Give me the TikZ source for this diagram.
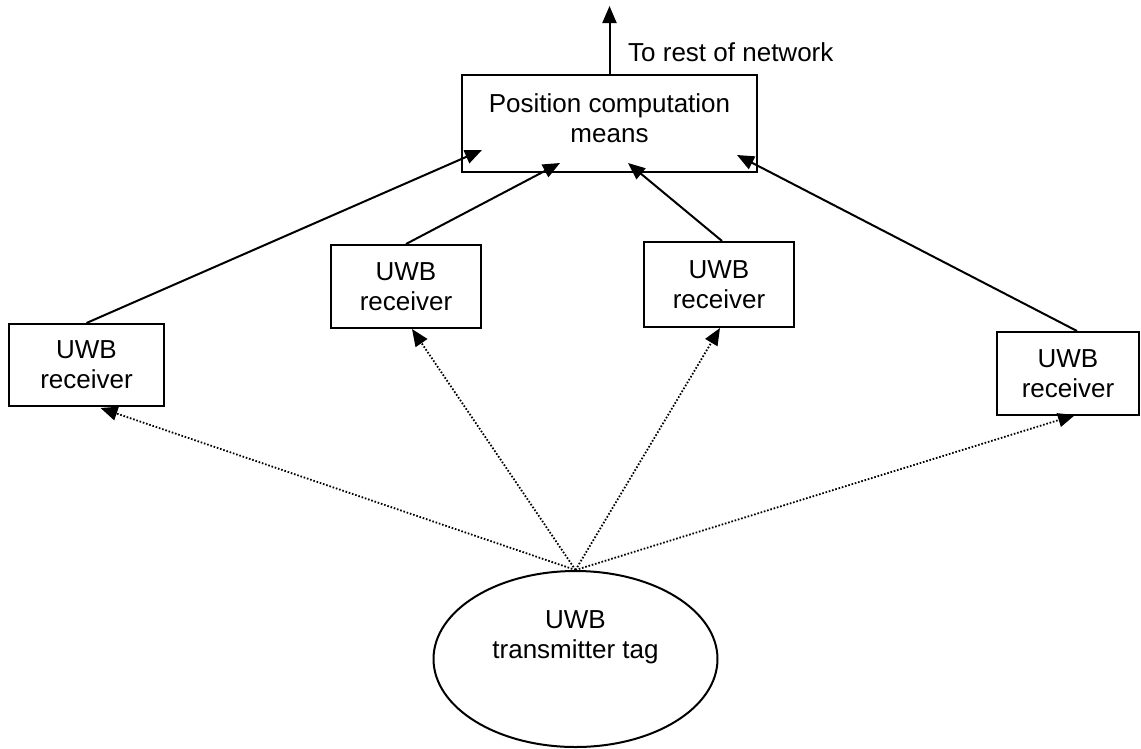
\documentclass[tikz,border=0pt]{standalone}
\usepackage{fontspec}
\setmainfont{Liberation Sans}
\usetikzlibrary{arrows.meta,shapes.geometric,calc}
\begin{document}
\begin{tikzpicture}[x=1pt,y=-1pt,
  txt/.style={font=\fontsize{26}{30}\selectfont, align=center, inner sep=0pt},
  rbox/.style={draw, line width=2pt, rectangle, inner sep=0pt, txt},
  tagshape/.style={draw, line width=2pt, ellipse, inner sep=0pt, minimum width=284pt, minimum height=176pt},
  link/.style={line width=2pt, -{Triangle[length=17pt,width=14pt]}},
  radio/.style={line width=1.8pt, dash pattern=on 1.6pt off 1.8pt, -{Triangle[length=17pt,width=14pt]}}]
\useasboundingbox (0,0) rectangle (1141,748);
% central box
\node[rbox, minimum width=295pt, minimum height=97pt] (pcm) at (609.5,123.5) {};
\node[txt] (pcmtext) at (609.5,118) {Position computation\\means};
\coordinate (up) at (609.5,6);
\draw[link] (pcm.north) -- (up);
\node[txt, anchor=west] (net) at (628,52) {To rest of network};
% receivers
\node[rbox, minimum width=155pt, minimum height=82pt] (r1) at (86.5,365) {UWB\\receiver};
\node[rbox, minimum width=150pt, minimum height=83pt] (r2) at (406,286.5) {UWB\\receiver};
\node[rbox, minimum width=150pt, minimum height=85pt] (r3) at (719,284.5) {UWB\\receiver};
\node[rbox, minimum width=142pt, minimum height=83pt] (r4) at (1068,373.5) {UWB\\receiver};
% tag
\node[tagshape] (tag) at (575.5,659) {};
\node[txt] (tagtext) at (575.5,637) {UWB\\transmitter tag};
% arrow tips inside central box
\coordinate (t1) at (482,150);
\coordinate (t2) at (560,163);
\coordinate (t3) at (628,163);
\coordinate (t4) at (737,155);
\draw[link] (r1.north) -- (t1);
\draw[link] (r2.north) -- (t2);
\draw[link] ($(r3.north)+(3,0)$) -- (t3);
\draw[link] ($(r4.north)+(9,0)$) -- (t4);
% radio links
\draw[radio] (tag.north) -- ($(r1.south)+(14,1)$);
\draw[radio] (tag.north) -- ($(r2.south)+(6,0)$);
\draw[radio] (tag.north) -- ($(r3.south)+(1,0)$);
\draw[radio] (tag.north) -- ($(r4.south)+(7,-1)$);
\end{tikzpicture}
\end{document}
